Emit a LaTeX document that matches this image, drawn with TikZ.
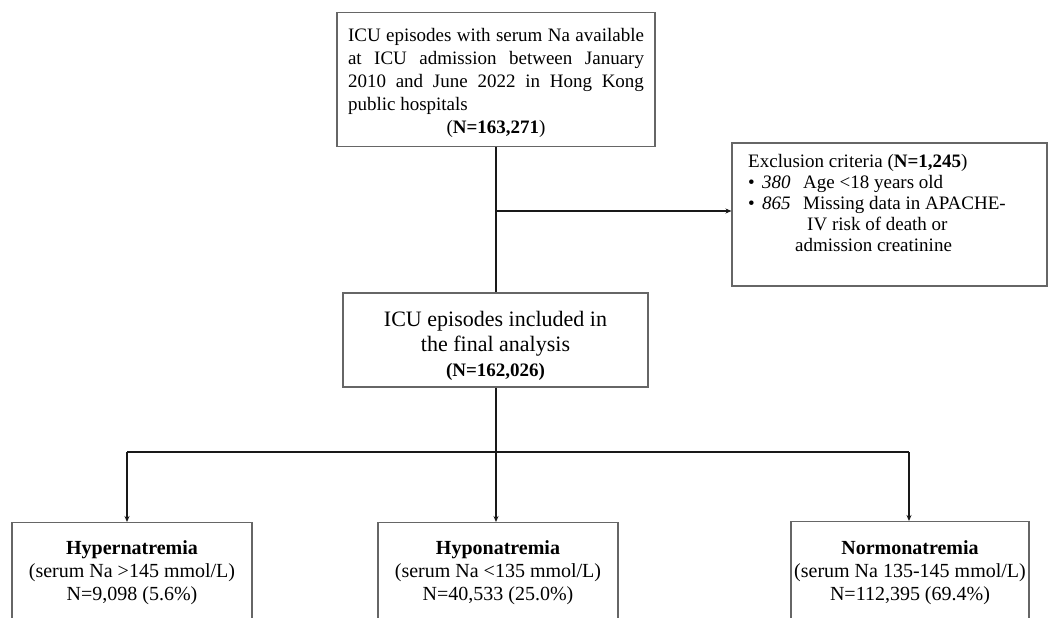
\documentclass[tikz,border=0pt]{standalone}
\usepackage{fontspec}
\setmainfont{Liberation Serif}
\usetikzlibrary{arrows.meta,calc}
\tikzset{
  box/.style={draw=black!60, line width=1.1pt, inner sep=0pt},
  conn/.style={draw=black!90, line width=1.3pt},
  arr/.style={conn, -{Stealth[length=6pt,width=5pt]}},
  txt/.style={inner sep=0pt, align=center},
}
\begin{document}
\begin{tikzpicture}[x=1pt,y=-1pt]
\useasboundingbox (0,0) rectangle (1049,618);
\clip (0,0) rectangle (1049,618);
% top box
\node[box, minimum width=318pt, minimum height=134pt] (top) at (496,79.5) {};
\node[inner sep=0pt, text width=296pt, align=justify,
      font=\fontsize{19}{23}\selectfont] (topt) at (496,83)
 {ICU episodes with serum Na available\linebreak at ICU admission between January\linebreak 2010 and June 2022 in Hong Kong\linebreak public hospitals\par\centering(\textbf{N=163,271})\par};
% exclusion box
\node[box, minimum width=315pt, minimum height=143pt] (excl) at (889.5,214.5) {};
\begin{scope}[every node/.style={inner sep=0pt, anchor=base west, font=\fontsize{19}{20}\selectfont}]
\node (ex1) at (748,167.5) {Exclusion criteria (\textbf{N=1,245})};
\node (ex2b) at (748,188.5) {•};
\node (ex2n) at (762,188.5) {\textit{380}};
\node (ex2t) at (803,188.5) {Age <18 years old};
\node (ex3b) at (748,209.5) {•};
\node (ex3n) at (762,209.5) {\textit{865}};
\node (ex3t) at (803,209.5) {Missing data in APACHE-};
\node (ex4) at (807,230.5) {IV risk of death or};
\node (ex5) at (795,251.5) {admission creatinine};
\end{scope}
% middle box
\node[box, minimum width=305pt, minimum height=94pt] (mid) at (495.5,340) {};
\node[txt, font=\fontsize{22}{25}\selectfont] (midt) at (495.5,346)
 {ICU episodes included in\\the final analysis\\{\fontsize{19}{23}\selectfont\textbf{(N=162,026)}}};
% bottom boxes
\node[box, minimum width=240pt, minimum height=200pt, anchor=north] (hyper) at (132,522) {};
\node[box, minimum width=240pt, minimum height=200pt, anchor=north] (hypo) at (498,522) {};
\node[box, minimum width=238pt, minimum height=200pt, anchor=north] (normo) at (910,521) {};
\begin{scope}[every node/.style={txt, anchor=north, font=\fontsize{20}{23}\selectfont}]
\node (hypert) at (132,540.5) {\textbf{Hypernatremia}\\(serum Na >145 mmol/L)\\N=9,098 (5.6\%)};
\node (hypot) at (498,540.5) {\textbf{Hyponatremia}\\(serum Na <135 mmol/L)\\N=40,533 (25.0\%)};
\node (normot) at (910,540.5) {\textbf{Normonatremia}\\(serum Na 135-145 mmol/L)\\N=112,395 (69.4\%)};
\end{scope}
% connectors
\coordinate (b1) at (496,211);
\coordinate (split) at (496,452);
\coordinate (hl) at (127,452);
\coordinate (hr) at (909,452);
\draw[conn] (top.south -| b1) -- (mid.north -| b1);
\draw[arr] (b1) -- (b1 -| excl.west);
\draw[conn] (mid.south -| split) -- (split);
\draw[conn] (hl) -- (hr);
\draw[arr] (hl) -- (hl |- hyper.north);
\draw[arr] (split) -- (split |- hypo.north);
\draw[arr] (hr) -- (hr |- normo.north);
\end{tikzpicture}
\end{document}
